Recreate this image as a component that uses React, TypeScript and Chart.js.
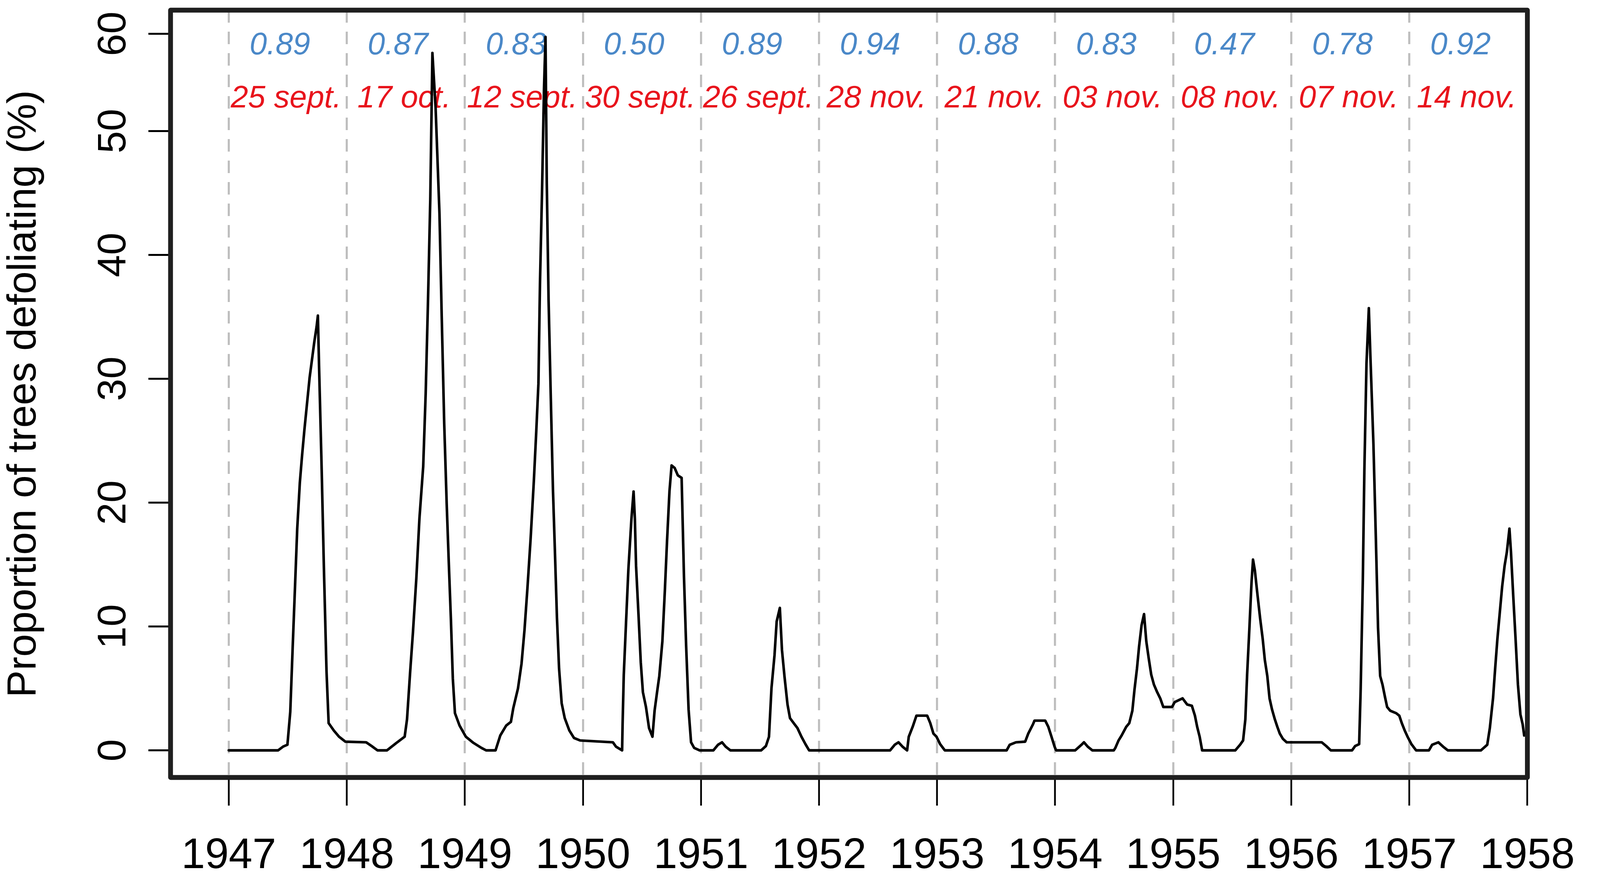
import { useEffect, useRef } from 'react';
import { Chart, registerables } from 'chart.js';

Chart.register(...registerables);

// x axis: one tick per year, the frame stops at 1958
const yearTicks = [1947, 1948, 1949, 1950, 1951, 1952, 1953, 1954, 1955, 1956, 1957, 1958];

// y axis ticks as printed on the figure (the top one sits a little below 60)
const yTickValues = [0, 10, 20, 30, 40, 50, 57.85];
const yTickLabels = ['0', '10', '20', '30', '40', '50', '60'];

// annotations per year (blue row and red row)
const corrValues = ['0.89', '0.87', '0.83', '0.50', '0.89', '0.94', '0.88', '0.83', '0.47', '0.78', '0.92'];
const peakDates = ['25 sept.', '17 oct.', '12 sept.', '30 sept.', '26 sept.', '28 nov.', '21 nov.', '03 nov.', '08 nov.', '07 nov.', '14 nov.'];

// observations: [decimal year, % of trees defoliating]
const obs1947: [number, number][] = [
  [1947.0, 0], [1947.418, 0], [1947.46, 0.3], [1947.497, 0.45], [1947.521, 3.1], [1947.541, 8.2],
  [1947.56, 12.9], [1947.58, 17.9], [1947.602, 21.6], [1947.621, 23.8], [1947.641, 25.9], [1947.664, 28.1],
  [1947.685, 30.1], [1947.703, 31.4], [1947.725, 33.0], [1947.744, 34.2], [1947.755, 35.1], [1947.765, 31.0],
  [1947.787, 22.7], [1947.806, 14.7], [1947.828, 6.4], [1947.846, 2.2], [1947.89, 1.6], [1947.934, 1.1],
  [1947.988, 0.7],
];
const obs1948: [number, number][] = [
  [1948.164, 0.65], [1948.21, 0.35], [1948.26, 0], [1948.34, 0], [1948.42, 0.6], [1948.49, 1.1],
  [1948.51, 2.5], [1948.537, 6.4], [1948.56, 9.5], [1948.589, 13.9], [1948.615, 18.7], [1948.647, 22.9],
  [1948.668, 28.8], [1948.688, 36.4], [1948.707, 44.5], [1948.725, 56.3], [1948.752, 51.9], [1948.785, 43.3],
  [1948.804, 35.0], [1948.825, 26.4], [1948.846, 19.9], [1948.864, 15.1], [1948.882, 10.5], [1948.898, 5.8],
  [1948.916, 3.0], [1948.955, 2.0],
];
const obs1949: [number, number][] = [
  [1949.008, 1.1], [1949.073, 0.6], [1949.14, 0.2], [1949.18, 0], [1949.26, 0], [1949.3, 1.2],
  [1949.35, 2.0], [1949.39, 2.3], [1949.41, 3.4], [1949.45, 5.0], [1949.48, 7.0], [1949.505, 9.7],
  [1949.53, 13.1], [1949.557, 17.1], [1949.584, 21.7], [1949.605, 25.8], [1949.623, 29.6], [1949.636, 37.6],
  [1949.654, 45.3], [1949.67, 53.3], [1949.683, 57.6], [1949.694, 45.7], [1949.709, 36.4], [1949.728, 28.4],
  [1949.746, 21.1], [1949.762, 16.3], [1949.78, 10.7], [1949.798, 6.6], [1949.82, 3.8], [1949.846, 2.6],
  [1949.885, 1.6], [1949.924, 1.0], [1949.976, 0.8],
];
const obs1950: [number, number][] = [
  [1950.254, 0.65], [1950.28, 0.3], [1950.332, 0], [1950.336, 2.1], [1950.346, 6.1], [1950.366, 10.5],
  [1950.385, 14.6], [1950.411, 18.7], [1950.429, 20.9], [1950.44, 18.7], [1950.45, 14.9], [1950.471, 10.9],
  [1950.49, 7.1], [1950.508, 4.7], [1950.534, 3.5], [1950.56, 1.8], [1950.589, 1.1], [1950.607, 3.2],
  [1950.628, 4.7], [1950.647, 6.0], [1950.673, 8.8], [1950.694, 12.9], [1950.712, 16.8], [1950.733, 20.9],
  [1950.751, 23.0], [1950.777, 22.8], [1950.804, 22.2], [1950.836, 22.0], [1950.843, 19.2], [1950.856, 14.0],
  [1950.874, 8.5], [1950.895, 3.3], [1950.916, 0.65], [1950.942, 0.2], [1950.987, 0],
];
const obs1951: [number, number][] = [
  [1951.105, 0], [1951.144, 0.45], [1951.178, 0.65], [1951.209, 0.3], [1951.249, 0], [1951.51, 0],
  [1951.55, 0.35], [1951.576, 1.1], [1951.597, 5.0], [1951.623, 7.7], [1951.641, 10.4], [1951.668, 11.5],
  [1951.686, 8.1], [1951.707, 6.0], [1951.733, 3.7], [1951.754, 2.6], [1951.785, 2.2], [1951.817, 1.8],
  [1951.851, 1.1], [1951.885, 0.5], [1951.916, 0],
];
const obs1952: [number, number][] = [
  [1952.602, 0], [1952.641, 0.45], [1952.673, 0.65], [1952.707, 0.3], [1952.746, 0], [1952.76, 1.1],
  [1952.793, 1.9], [1952.825, 2.8], [1952.916, 2.8], [1952.942, 2.2], [1952.969, 1.35], [1952.995, 1.1],
];
const obs1953: [number, number][] = [
  [1953.026, 0.5], [1953.065, 0], [1953.589, 0], [1953.615, 0.45], [1953.668, 0.65], [1953.746, 0.7],
  [1953.772, 1.35], [1953.812, 2.1], [1953.825, 2.4], [1953.916, 2.4], [1953.942, 1.9], [1953.969, 1.1],
  [1953.995, 0.3],
];
const obs1954: [number, number][] = [
  [1954.008, 0], [1954.17, 0], [1954.223, 0.45], [1954.244, 0.65], [1954.276, 0.3], [1954.315, 0],
  [1954.497, 0], [1954.51, 0.2], [1954.537, 0.8], [1954.563, 1.2], [1954.602, 1.9], [1954.628, 2.2],
  [1954.654, 3.2], [1954.672, 4.9], [1954.693, 6.6], [1954.711, 8.4], [1954.732, 10.1], [1954.753, 11.0],
  [1954.772, 8.8], [1954.793, 7.4], [1954.814, 6.1], [1954.837, 5.3], [1954.864, 4.7], [1954.89, 4.2],
  [1954.916, 3.5], [1954.99, 3.5],
];
const obs1955: [number, number][] = [
  [1955.013, 3.9], [1955.079, 4.2], [1955.118, 3.7], [1955.158, 3.6], [1955.184, 2.8], [1955.203, 1.9],
  [1955.224, 1.1], [1955.245, 0], [1955.526, 0], [1955.566, 0.45], [1955.592, 0.8], [1955.611, 2.5],
  [1955.626, 6.1], [1955.645, 9.8], [1955.663, 13.5], [1955.676, 15.4], [1955.692, 14.5], [1955.711, 12.8],
  [1955.737, 10.6], [1955.758, 9.0], [1955.776, 7.3], [1955.797, 6.0], [1955.816, 4.2], [1955.837, 3.3],
  [1955.861, 2.5], [1955.882, 1.9], [1955.903, 1.35], [1955.929, 0.93], [1955.961, 0.65],
];
const obs1956: [number, number][] = [
  [1956.258, 0.65], [1956.296, 0.35], [1956.335, 0], [1956.515, 0], [1956.541, 0.35], [1956.575, 0.5],
  [1956.588, 5.0], [1956.606, 13.7], [1956.619, 22.5], [1956.637, 31.2], [1956.657, 35.7], [1956.67, 31.9],
  [1956.696, 24.7], [1956.716, 17.3], [1956.735, 9.9], [1956.753, 6.0], [1956.773, 5.3], [1956.794, 4.3],
  [1956.812, 3.5], [1956.838, 3.2], [1956.889, 3.0], [1956.915, 2.8], [1956.936, 2.2], [1956.961, 1.6],
  [1956.985, 1.1],
];
const obs1957: [number, number][] = [
  [1957.018, 0.5], [1957.057, 0], [1957.166, 0], [1957.193, 0.45], [1957.246, 0.65], [1957.286, 0.3],
  [1957.326, 0], [1957.607, 0], [1957.66, 0.45], [1957.682, 1.8], [1957.709, 4.2], [1957.727, 6.6],
  [1957.746, 9.0], [1957.767, 11.2], [1957.786, 13.2], [1957.807, 14.9], [1957.826, 16.0], [1957.848, 17.9],
  [1957.861, 16.0], [1957.88, 12.5], [1957.901, 8.8], [1957.92, 5.3], [1957.941, 2.9], [1957.96, 2.1],
  [1957.973, 1.2],
];

const FONT = "'Liberation Sans', Arial, Helvetica, sans-serif";

// axis limits (R style: the x frame starts half a year before 1947)
const X_MIN = 1946.507;
const X_MAX = 1958;
const Y_MIN = -2.19;
const Y_MAX = 59.76;

// where the two text rows sit, in data units
const BLUE_ROW = 56.2;
const RED_ROW = 51.9;
const BLUE_SHIFT = 0.433;
const RED_SHIFT = 0.486;

// sizes below are measured on the 4550 x 2255 picture
const REF_W = 4550;
const REF_H = 2255;

export default function App() {
  const canvasRef = useRef<HTMLCanvasElement>(null);
  const chartRef = useRef<Chart | null>(null);

  useEffect(() => {
    if (!canvasRef.current) return;

    // the css viewport is not always 4550 x 2255, so scale each direction on its own
    const kx = (window.innerWidth || REF_W) / REF_W;
    const ky = (window.innerHeight || REF_H) / REF_H;
    const kf = Math.sqrt(kx * ky);
    const hx = (v: number) => v * kx;
    const hy = (v: number) => v * ky;
    const fs = (v: number) => v * kf;

    const points = [
      ...obs1947, ...obs1948, ...obs1949, ...obs1950, ...obs1951, ...obs1952,
      ...obs1953, ...obs1954, ...obs1955, ...obs1956, ...obs1957,
    ].map(([x, y]) => ({ x, y }));

    // blue and red text above each year, under the data line
    const yearNotes = {
      id: 'yearNotes',
      beforeDatasetsDraw(chart: any) {
        const { ctx, scales: { x, y } } = chart;
        ctx.save();
        ctx.textAlign = 'center';
        ctx.textBaseline = 'alphabetic';
        ctx.font = `italic ${fs(84)}px ${FONT}`;
        corrValues.forEach((txt, i) => {
          ctx.fillStyle = '#4A88C8';
          ctx.fillText(txt, x.getPixelForValue(yearTicks[i] + BLUE_SHIFT), y.getPixelForValue(BLUE_ROW));
          ctx.fillStyle = '#E8141C';
          ctx.fillText(peakDates[i], x.getPixelForValue(yearTicks[i] + RED_SHIFT), y.getPixelForValue(RED_ROW));
        });
        ctx.restore();
      },
    };

    // heavy box around the plot and rotated y tick labels
    const frame = {
      id: 'frame',
      afterDraw(chart: any) {
        const { ctx, chartArea: { left, top, right, bottom }, scales: { y } } = chart;
        ctx.save();
        ctx.strokeStyle = '#1f1f1f';
        ctx.lineWidth = fs(13);
        ctx.lineJoin = 'round';
        ctx.strokeRect(left, top, right - left, bottom - top);

        ctx.fillStyle = '#000';
        ctx.font = `${fs(108)}px ${FONT}`;
        ctx.textAlign = 'center';
        ctx.textBaseline = 'alphabetic';
        y.ticks.forEach((t: any, i: number) => {
          ctx.save();
          ctx.translate(left - hx(128), y.getPixelForValue(t.value));
          ctx.rotate(-Math.PI / 2);
          ctx.fillText(t.label ?? yTickLabels[i], 0, 0);
          ctx.restore();
        });
        ctx.restore();
      },
    };

    const xFont = fs(115);
    const titleFont = fs(110);

    chartRef.current = new Chart(canvasRef.current, {
      type: 'line',
      data: {
        datasets: [
          {
            data: points,
            borderColor: '#000',
            borderWidth: fs(7),
            pointRadius: 0,
            fill: false,
            tension: 0,
            borderJoinStyle: 'round',
            borderCapStyle: 'round',
          },
        ],
      },
      options: {
        animation: false,
        responsive: true,
        maintainAspectRatio: false,
        layout: { autoPadding: false, padding: { left: 0, top: hy(26), right: hx(147), bottom: 0 } },
        plugins: { legend: { display: false }, tooltip: { enabled: false }, title: { display: false } },
        scales: {
          x: {
            type: 'linear',
            min: X_MIN,
            max: X_MAX,
            afterBuildTicks: (axis: any) => {
              axis.ticks = yearTicks.map((v) => ({ value: v }));
            },
            afterFit: (axis: any) => {
              axis.height = hy(265);
            },
            grid: {
              drawOnChartArea: true,
              drawTicks: true,
              color: '#BEBEBE',
              lineWidth: hx(6),
              tickColor: '#000',
              tickWidth: hx(5),
              tickLength: hy(72),
              tickBorderDash: [],
            },
            border: { display: false, dash: [hy(32), hy(23)] },
            ticks: {
              autoSkip: false,
              maxRotation: 0,
              minRotation: 0,
              padding: hy(202) - hy(72) - 0.6 * xFont,
              color: '#000',
              font: { family: FONT, size: xFont, lineHeight: 1.2 },
              callback: (v: any) => String(v),
            },
          },
          y: {
            type: 'linear',
            min: Y_MIN,
            max: Y_MAX,
            afterBuildTicks: (axis: any) => {
              axis.ticks = yTickValues.map((v) => ({ value: v }));
            },
            afterFit: (axis: any) => {
              axis.width = hx(485);
            },
            grid: {
              drawOnChartArea: false,
              drawTicks: true,
              tickLength: hx(63),
              tickColor: '#000',
              tickWidth: hy(5),
            },
            border: { display: false },
            ticks: {
              display: false,
              callback: (_v: any, i: number) => yTickLabels[i],
            },
            title: {
              display: true,
              text: 'Proportion of trees defoliating (%)',
              color: '#000',
              font: { family: FONT, size: titleFont, lineHeight: 1.2 },
              padding: { top: Math.max(0, hx(69) - 0.6 * titleFont), bottom: 0 },
            },
          },
        },
      },
      plugins: [yearNotes, frame],
    } as any);

    return () => {
      if (chartRef.current) {
        chartRef.current.destroy();
        chartRef.current = null;
      }
    };
  }, []);

  return (
    <div style={{ position: 'absolute', left: 0, top: 0, width: '100vw', height: '100vh', background: '#fff', overflow: 'hidden' }}>
      <canvas ref={canvasRef} />
    </div>
  );
}
